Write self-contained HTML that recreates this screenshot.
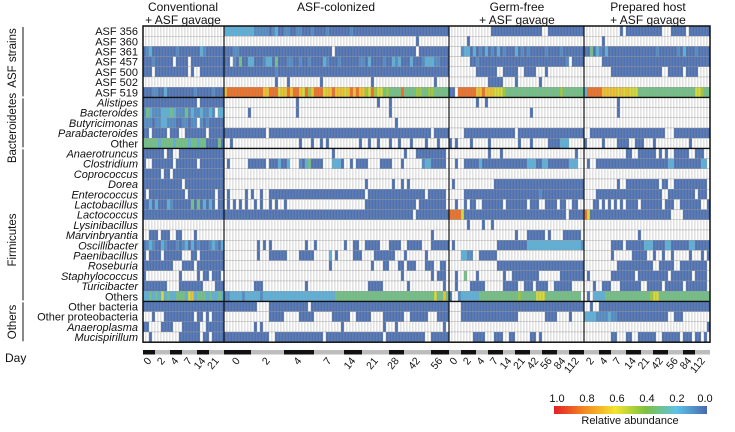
<!DOCTYPE html>
<html><head><meta charset="utf-8">
<style>
body{margin:0;background:#fff;}
svg text{font-family:"Liberation Sans",sans-serif;fill:#111;}
</style></head>
<body>
<svg id="chart" width="735" height="427" viewBox="0 0 735 427" xmlns="http://www.w3.org/2000/svg">
  <g id="headers" font-size="12" text-anchor="middle">
    <text x="183" y="11">Conventional</text>
    <text x="183" y="24">+ ASF gavage</text>
    <text x="336" y="11">ASF-colonized</text>
    <text x="517" y="11">Germ-free</text>
    <text x="517" y="24">+ ASF gavage</text>
    <text x="648" y="11">Prepared host</text>
    <text x="648" y="24">+ ASF gavage</text>
  </g>
  <g id="cells"></g>
  <g id="rowlabels" font-size="11" text-anchor="end"></g>
  <g id="groups" font-size="11.5" text-anchor="middle"></g>
  <g id="frame"></g>
  <g id="days"></g>
  <text x="5" y="362" font-size="12">Day</text>
  <defs>
    <linearGradient id="cbar" x1="0" x2="1" y1="0" y2="0">
      <stop offset="0" stop-color="#e31f26"/>
      <stop offset="0.2" stop-color="#f28a22"/>
      <stop offset="0.4" stop-color="#f2e52e"/>
      <stop offset="0.6" stop-color="#7cc142"/>
      <stop offset="0.8" stop-color="#5ec3e6"/>
      <stop offset="1" stop-color="#4a68b0"/>
    </linearGradient>
  </defs>
  <g>
    <rect x="554" y="406" width="153" height="8" fill="url(#cbar)"/>
    <g font-size="11" text-anchor="middle">
      <text x="557" y="402">1.0</text>
      <text x="587" y="402">0.8</text>
      <text x="617" y="402">0.6</text>
      <text x="647" y="402">0.4</text>
      <text x="677" y="402">0.2</text>
      <text x="705" y="402">0.0</text>
      <text x="630" y="424">Relative abundance</text>
    </g>
  </g>
</svg>
<script>
const rowNames = ["ASF 356","ASF 360","ASF 361","ASF 457","ASF 500","ASF 502","ASF 519","Alistipes","Bacteroides","Butyricimonas","Parabacteroides","Other","Anaerotruncus","Clostridium","Coprococcus","Dorea","Enterococcus","Lactobacillus","Lactococcus","Lysinibacillus","Marvinbryantia","Oscillibacter","Paenibacillus","Roseburia","Staphylococcus","Turicibacter","Others","Other bacteria","Other proteobacteria","Anaeroplasma","Mucispirillum"];
const italicRows = [7,8,9,10,12,13,14,15,16,17,18,19,20,21,22,23,24,25,29,30];
const sectionCols = [27,75,45,42];
const groupNames = ["ASF strains","Bacteroidetes","Firmicutes","Others"];
const groupRows = [[0,6],[7,11],[12,26],[27,30]];
const groupLabelY = [58,128,240,322];
const dayLabels = [["0","2","4","7","14","21"],["0","2","4","7","14","21","28","42","56"],["0","2","4","7","14","21","42","56","84","112"],["2","4","7","14","21","42","56","84","112"]];
const dayCols = [[4,5,4,5,4,5],[9,11,10,10,6,9,5,9,6],[4,5,4,5,4,5,4,5,4,5],[5,4,5,5,4,5,5,4,5]];
const levelValues = {".":0,"1":0.02,"2":0.08,"3":0.16,"4":0.32,"5":0.45,"6":0.55,"7":0.68,"8":0.85,"9":0.95};
const rowData = [
"|333333333322222123112211221112111121111111211111111111111111111111111111111|..............11111111111111111..111111111111|............1.111111111111...11111.111111111",
"|................................................................1|......1|......1",
"123111111112111111132111111|111221111111111111111111111111111111.111111111111111111111111111.1111111111|....233131213121312111312121111121111211111111|1141321311111111111111112111111213111211111",
"1112111111.1111.11111111111|11.2141133111233141112211211211113211121111112213111121132311131112333221111|.......112111111111111111111111111111112.1111|......111111111111111111111111111111111111",
"111.11111111111.1..11111111|111111111111111112111111111111111111111111111111111111111111111111111111111|.........1111111..11111..1111...1|.........11111111111111111..11111.1111",
"|.................1...1..........1................1....................1|.............11111....1.......1|",
"111221131111111112111112111|788888888888877888677878876857888677877767878775685664544448444455445544444|11.88888877877766654444444444444444445444444444|3888887777767676664444444444444444444665444",
"111111111111111111.11111111|........................1..........................1...1|.........1..1|...........1",
"243222333432224232232232.33|........1...............1..............................1|...........................1|...........1",
"222122332221122122.21211111|.........................................................1||",
"11.11111.111..1111111.11111|11111111111111.111111111111111111111111111111111111111111111111111111.11111|.....11111111111111111.11111111111111111111111|..1111111111111111111111111...11111111111111",
"444443444434444344344111141|..1......................1...1..1.1..........1..1..1...1..1...1....1...1..|1.1....1.....1.........1...1.....1111333......|1.....1....1111..111...1...........1......1.",
"1111111.11..111111111111111|....................................1.......................1...1111111111|.............1...1........................1.|..............11..111111.1.1..11111..111",
"1..1111111.1111111.11111111|.1......111111.1113113...21341111...3331..1.1111....1111...1......23311111|..1..11111311111111111111133311331111111333|.1..1111111111111111111111113311111111133",
"111111.11.11111111111111111|||",
"1111111111111.1111111111111|...............................................1........1..1.1|.1.............111111111111111111111111111111|...........1..11111111111.11..11111111111",
"1.111111111111.111111111.11|.1.....1.1..1..11111111111111111111111111111111.1111111111111111111.111111.|.....111111111111111111111111121111111111111111|....1111111111111111111111..111111111.111",
"113131113211111141413131.11|.1.1.1.1..1.1..1.1..1..........................11111111111111111.111111111|..1..1.11..1111111.1111111.111..1111.11..11..|...11.1.1.1.1.1111.1111111.111..1111111..1.1",
"111111111111111111111111111|111111111111111111111111111111111111111111111111111111111111111.11111111111|888861111111111111111111111111111111111.111111|86111111111111111111111111111....11111111111",
"||......1....1..1|",
"..111.111..11....1.........|.....................................................................1|......................1...111111.1....111111.|..................1",
"123211321112123131211123213|...........1.1.1...........1..1.........1..11..11111...1111..11111...111111|.1..............11111111113333333333333333332|.........1111.11111133311113311111133111111",
"1.1111.111111...11.11111111|...........1...111111....11111.....3.1.....111....1111111...1......1.......1|....3322..111111|.........1......11111..1..1..1.....1...1.1",
"1111111111...1111.111111111|...................................1.............1...11...11.111...111..11|................11111111111111111111111111111|...........111111111111..11111..111111111",
"1...........1.....1.11.111.|...........................................................1.........1.111|..1..4...1........1..111111111.......11111111|.1.......11111111.1111111111.1111111.1111",
"11111111....11111111....111|..........111..............1....................11111........1...........1|..1....11111......11111..111.1111..111111....|...1..111...1111111..11111.111111.1111111",
"334343634334443673444343343|223333233333233333333333333333333333344444444444444444444444444444444464474|1..23333334444444444444544444666444444444444|.1.333344444444444444456644444444444444444",
"111111111111111111111111111|11111111111....1111111111111.11111111111111111111111111111111111111111111111|....11111111111111111111111111111111111111111|..1..1111111111111111111111111111111111111",
"...1...1111111111.11.1.1111|...............11111.....11111......111111..11111....1111111..111111...1111|....1111111111111111111.........1111....1.....|3333222232211111111111111111..111..........",
"11....1111...111111..111111|..........1.1..........................1.............1...1...............1|.....................................|.........................................1",
"..1.........1111111.11.1111|111111111111111..1111111111111111.1111111111111111111.1111111111111..11111111|........1111...111..11.....11.1.|.........11...11..111111..111111.111.11.1"
];

const NS = "http://www.w3.org/2000/svg";
const X0 = 143, Y0 = 26, CW = 3.0, RH = 10.2;
const nRows = rowNames.length;
const totalCols = sectionCols.reduce((a,b)=>a+b,0);
const X1 = X0 + totalCols*CW, Y1 = Y0 + nRows*RH;
function xCol(c){ return X0 + c*CW; }
function yRow(r){ return Y0 + r*RH; }
const stops = [[0,[74,104,176]],[0.2,[94,195,230]],[0.4,[124,193,66]],[0.6,[242,229,46]],[0.8,[242,138,34]],[1,[227,31,38]]];
function colorOf(v){
  if (v <= 0) return "#ffffff";
  for (let i=1;i<stops.length;i++){
    if (v <= stops[i][0]){
      const t=(v-stops[i-1][0])/(stops[i][0]-stops[i-1][0]);
      const a=stops[i-1][1], b=stops[i][1];
      return "rgb("+a.map((c,k)=>Math.round(c+(b[k]-c)*t)).join(",")+")";
    }
  }
  return "rgb(227,31,38)";
}
function mk(tag, attrs, parent){
  const e = document.createElementNS(NS, tag);
  for (const k in attrs) e.setAttribute(k, attrs[k]);
  parent.appendChild(e); return e;
}
const cells = document.getElementById("cells");
rowData.forEach((row, r) => {
  const segs = row.split("|");
  let c0 = 0;
  sectionCols.forEach((n, s) => {
    let str = (segs[s] || "");
    str = (str + ".".repeat(n)).slice(0, n);
    for (let i=0;i<n;i++){
      const v = levelValues[str[i]] || 0;
      const rect = mk("rect", {x:xCol(c0+i), y:yRow(r), width:CW, height:RH, fill:colorOf(v), stroke:"#9a9a9a", "stroke-width":0.35}, cells);
      
      
    }
    c0 += n;
  });
});
const rl = document.getElementById("rowlabels");
rowNames.forEach((name, r) => {
  const t = mk("text", {x:138, y:yRow(r)+RH/2+4}, rl);
  if (italicRows.includes(r)) t.setAttribute("font-style","italic");
  t.textContent = name;
  
  
});
const gg = document.getElementById("groups");
groupNames.forEach((g, i) => {
  const ya = yRow(groupRows[i][0]) + 1, yb = yRow(groupRows[i][1]+1) - 1;
  const ln = mk("line", {x1:23, x2:23, y1:ya, y2:yb, stroke:"#111", "stroke-width":1}, gg);
  
  
  const t = mk("text", {x:0, y:0, transform:"translate(16,"+groupLabelY[i]+") rotate(-90)"}, gg);
  t.textContent = g;
  
  
});
const fr = document.getElementById("frame");
[7,12,27].forEach(r => {
  const ln = mk("line", {x1:X0, x2:X1, y1:yRow(r), y2:yRow(r), stroke:"#111", "stroke-width":1.4}, fr);
  
  
});
let acc = 0;
sectionCols.slice(0,-1).forEach(n => {
  acc += n;
  const ln = mk("line", {x1:xCol(acc), x2:xCol(acc), y1:Y0, y2:Y1, stroke:"#111", "stroke-width":1.2}, fr);
  
  
});
const border = mk("rect", {x:X0, y:Y0, width:X1-X0, height:Y1-Y0, fill:"none", stroke:"#111", "stroke-width":1.5}, fr);


const dg = document.getElementById("days");
let col = 0, k = 0;
dayLabels.forEach((labels, s) => {
  labels.forEach((lab, i) => {
    const n = dayCols[s][i];
    const xa = xCol(col), xb = xCol(col+n);
    const seg = mk("rect", {x:xa, y:350, width:xb-xa, height:4.5, fill: (k%2===0) ? "#111" : "#bdbdbd"}, dg);
    
    
    const cx = (xa+xb)/2;
    const t = mk("text", {x:0, y:0, "font-size":10.5, "text-anchor":"end", transform:"translate("+(cx+3)+",361) rotate(-50)"}, dg);
    t.textContent = lab;
    
    
    col += n; k++;
  });
});
</script>
</body></html>
